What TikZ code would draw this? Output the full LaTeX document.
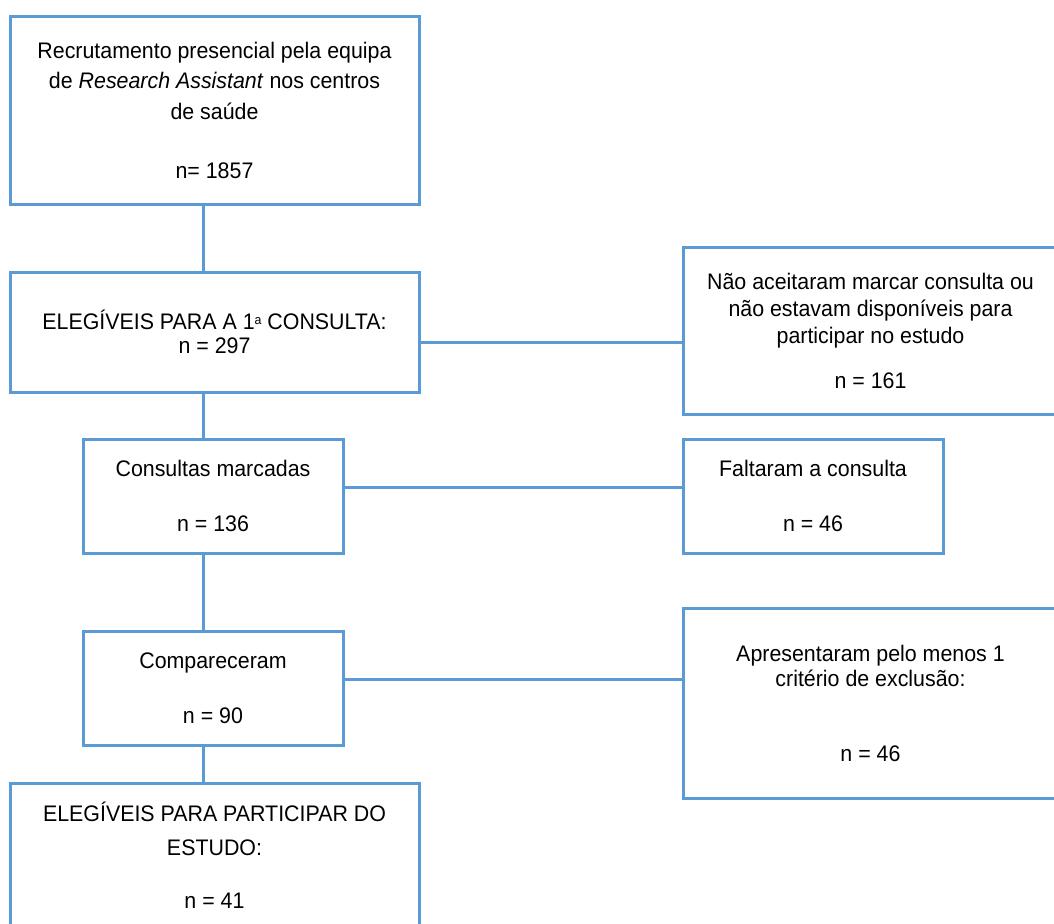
\documentclass[tikz,border=0pt]{standalone}
\usepackage{fontspec}
\setmainfont{Liberation Sans}[FakeStretch=0.95]
\definecolor{boxblue}{HTML}{5B9BD5}
\tikzset{
  box/.style={draw=boxblue, line width=3pt, rectangle, align=center, inner sep=0pt,
    font=\fontsize{22.5}{30.5}\selectfont, text=black},
  link/.style={draw=boxblue, line width=3pt}
}
\begin{document}
\begin{tikzpicture}[x=1pt, y=-1pt]
\useasboundingbox (0,0) rectangle (1054,923);
\clip (0,0) rectangle (1054,923);
% left column
\node[box, minimum width=409pt, minimum height=187pt] (b1) at (214.5,110.5)
  {Recrutamento presencial pela equipa\\de \textit{Research Assistant} nos centros\\de saúde\\[29pt]n= 1857};
\node[box, minimum width=409pt, minimum height=120pt] (b2) at (214.5,332)
  {ELEGÍVEIS PARA A 1{\fontsize{13}{13}\selectfont\raisebox{5pt}{a}} CONSULTA:\\[-6.5pt]n = 297};
\node[box, minimum width=260pt, minimum height=114pt] (b3) at (213,496)
  {Consultas marcadas\\[24.5pt]n = 136};
\node[box, minimum width=260pt, minimum height=114pt] (b4) at (213,688)
  {Compareceram\\[24pt]n = 90};
\node[box, minimum width=409pt, minimum height=145pt] (b5) at (214.5,855.5)
  {ELEGÍVEIS PARA PARTICIPAR DO\\[3.5pt]ESTUDO:\\[22.5pt]n = 41};
% right column
\node[box, minimum width=375pt, minimum height=167pt] (r1) at (870.5,330.5)
  {Não aceitaram marcar consulta ou\\[-3.5pt]não estavam disponíveis para\\[-3.5pt]participar no estudo\\[14.5pt]n = 161};
\node[box, minimum width=260pt, minimum height=114pt] (r2) at (813,496)
  {Faltaram a consulta\\[24.5pt]n = 46};
\node[box, minimum width=375pt, minimum height=190pt] (r3) at (870.5,703)
  {Apresentaram pelo menos 1\\[-5.5pt]critério de exclusão:\\[44.5pt]n = 46};
% connectors
\coordinate (vx) at (203,0);
\coordinate (h1) at (0,342);
\coordinate (h2) at (0,487);
\coordinate (h3) at (0,679);
\draw[link] (b1.south -| vx) -- (b2.north -| vx);
\draw[link] (b2.south -| vx) -- (b3.north -| vx);
\draw[link] (b3.south -| vx) -- (b4.north -| vx);
\draw[link] (b4.south -| vx) -- (b5.north -| vx);
\draw[link] (b2.east |- h1) -- (r1.west |- h1);
\draw[link] (b3.east |- h2) -- (r2.west |- h2);
\draw[link] (b4.east |- h3) -- (r3.west |- h3);
\end{tikzpicture}
\end{document}
